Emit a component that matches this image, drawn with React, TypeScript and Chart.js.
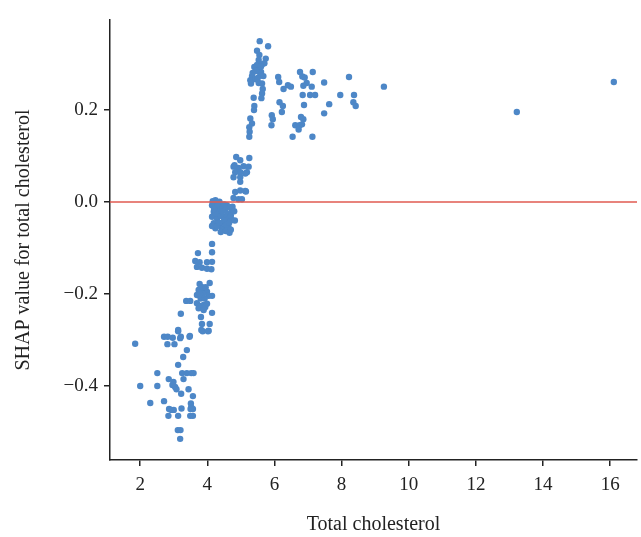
import React, { useEffect, useRef } from "react";
import { Chart, registerables } from "chart.js";

Chart.register(...registerables);

// Total cholesterol (x) and SHAP value (y)
const lowX = [1.85, 2.0, 2.3, 2.51, 2.51, 2.71, 2.71, 2.81, 2.82, 2.85, 2.86, 2.84, 2.93, 2.97, 3.02, 3.0, 2.99, 2.96, 3.04, 3.08, 3.13, 3.13, 3.13, 3.12, 3.2, 3.19, 3.21, 3.22, 3.23, 3.28, 3.25, 3.29, 3.39, 3.39, 3.44, 3.48, 3.52, 3.59, 3.51, 3.52, 3.5, 3.57, 3.49, 3.57, 3.57, 3.47, 3.19, 3.13, 3.86, 4.02];
const lowY = [-0.308, -0.4, -0.437, -0.372, -0.4, -0.293, -0.433, -0.309, -0.293, -0.385, -0.45, -0.465, -0.452, -0.295, -0.309, -0.452, -0.391, -0.398, -0.402, -0.407, -0.281, -0.354, -0.465, -0.496, -0.496, -0.515, -0.293, -0.417, -0.449, -0.337, -0.372, -0.385, -0.322, -0.372, -0.407, -0.291, -0.372, -0.372, -0.438, -0.446, -0.45, -0.45, -0.465, -0.465, -0.422, -0.293, -0.296, -0.278, -0.281, -0.281];

const midX = [3.21, 3.37, 3.49, 3.69, 3.79, 3.89, 3.99, 3.74, 3.89, 3.94, 3.77, 4.07, 3.74, 3.89, 3.99, 3.84, 4.04, 4.14, 3.69, 3.89, 4.14, 3.81, 3.84, 4.07, 3.82, 4.04, 3.8, 3.92, 3.85, 3.95, 3.87, 3.78, 4.14, 3.72, 4.14, 3.64, 3.77, 3.99, 4.14, 3.69, 3.84, 3.99, 4.12];
const midY = [-0.243, -0.215, -0.215, -0.22, -0.226, -0.224, -0.221, -0.231, -0.231, -0.228, -0.178, -0.176, -0.191, -0.191, -0.195, -0.202, -0.204, -0.204, -0.202, -0.235, -0.241, -0.25, -0.265, -0.265, -0.278, -0.28, -0.21, -0.21, -0.185, -0.185, -0.2, -0.2, -0.091, -0.111, -0.109, -0.128, -0.131, -0.131, -0.13, -0.141, -0.143, -0.145, -0.146];

const zeroX = [4.24, 4.36, 4.14, 4.29, 4.44, 4.58, 4.68, 4.19, 4.34, 4.53, 4.73, 4.14, 4.29, 4.48, 4.63, 4.19, 4.38, 4.58, 4.73, 4.24, 4.44, 4.63, 4.14, 4.29, 4.66, 4.25, 4.4, 4.5, 4.6, 4.35, 4.55, 4.7, 4.2, 4.45, 4.65, 4.3, 4.5, 4.75, 4.4, 4.55, 4.7, 4.16, 4.8, 4.82];
const zeroY = [0.004, 0.001, -0.007, -0.011, -0.009, -0.007, -0.011, -0.021, -0.021, -0.017, -0.021, -0.032, -0.036, -0.032, -0.032, -0.046, -0.046, -0.043, -0.039, -0.057, -0.057, -0.054, -0.052, -0.052, -0.067, -0.025, -0.03, -0.04, -0.025, -0.045, -0.05, -0.03, -0.015, -0.02, -0.045, -0.005, -0.005, -0.01, -0.065, -0.063, -0.06, 0.002, -0.02, -0.04];

const riseX = [4.86, 5.25, 4.98, 4.78, 4.93, 5.08, 5.23, 4.83, 4.98, 5.18, 4.78, 4.98, 4.98, 4.83, 5.13, 4.78, 4.93, 5.03, 5.13, 4.81, 5.15, 4.98];
const riseY = [0.098, 0.096, 0.091, 0.077, 0.074, 0.078, 0.077, 0.065, 0.065, 0.065, 0.054, 0.054, 0.044, 0.022, 0.024, 0.009, 0.006, 0.006, 0.062, 0.08, 0.023, 0.025];

const highX = [5.56, 5.81, 5.48, 5.55, 5.74, 5.53, 5.48, 5.63, 5.7, 5.4, 5.53, 5.6, 5.67, 5.33, 5.28, 5.43, 5.53, 5.63, 5.65, 5.63, 5.61, 5.38, 5.4, 5.39, 5.28, 5.33, 5.25, 5.26, 5.25, 5.35, 5.58, 5.45, 5.58, 5.5, 5.6, 5.3];
const highY = [0.35, 0.339, 0.329, 0.32, 0.312, 0.309, 0.298, 0.3, 0.302, 0.294, 0.287, 0.283, 0.274, 0.274, 0.265, 0.267, 0.259, 0.258, 0.246, 0.236, 0.226, 0.227, 0.209, 0.2, 0.182, 0.171, 0.163, 0.153, 0.142, 0.281, 0.28, 0.285, 0.275, 0.27, 0.295, 0.258];

const spreadX = [6.11, 6.14, 6.76, 6.83, 6.9, 7.14, 6.27, 6.4, 6.49, 6.96, 6.86, 7.11, 7.48, 8.22, 9.26, 6.84, 7.06, 7.21, 7.96, 8.37, 6.15, 6.25, 6.88, 7.63, 8.35, 8.42, 6.22, 7.48, 5.92, 5.95, 6.79, 6.86, 5.91, 6.62, 6.75, 6.82, 6.72, 6.54, 7.13, 13.22, 16.11];
const spreadY = [0.272, 0.261, 0.283, 0.273, 0.271, 0.283, 0.246, 0.254, 0.251, 0.259, 0.253, 0.251, 0.26, 0.272, 0.251, 0.233, 0.233, 0.233, 0.233, 0.233, 0.217, 0.209, 0.211, 0.213, 0.217, 0.209, 0.196, 0.193, 0.189, 0.18, 0.185, 0.18, 0.167, 0.167, 0.167, 0.169, 0.158, 0.142, 0.142, 0.196, 0.261];

const xTicks = [2, 4, 6, 8, 10, 12, 14, 16];
const yTicks = [-0.4, -0.2, 0.0, 0.2];

const allX = [...lowX, ...midX, ...zeroX, ...riseX, ...highX, ...spreadX];
const allY = [...lowY, ...midY, ...zeroY, ...riseY, ...highY, ...spreadY];

const FONT = "'Liberation Serif', 'DejaVu Serif', serif";

const zeroLine = {
  id: "zeroLine",
  afterDatasetsDraw(chart: any) {
    const { ctx, chartArea, scales } = chart;
    const y = scales.y.getPixelForValue(0);
    ctx.save();
    ctx.strokeStyle = "#e05a50";
    ctx.lineWidth = 1.5;
    ctx.beginPath();
    ctx.moveTo(chartArea.left, y);
    ctx.lineTo(chartArea.right, y);
    ctx.stroke();
    ctx.restore();
  },
};

export default function App() {
  const ref = useRef<HTMLCanvasElement>(null);
  useEffect(() => {
    document.body.style.margin = "0";
    const data = allX.map((x, i) => ({ x, y: allY[i] }));
    const chart = new Chart(ref.current!, {
      type: "scatter",
      data: {
        datasets: [
          {
            data,
            backgroundColor: "#4d87c7",
            borderWidth: 0,
            pointRadius: 3.2,
          },
        ],
      },
      options: {
        responsive: false,
        animation: false,
        layout: { padding: { top: 20, right: 4, left: 0, bottom: 0 } },
        plugins: { legend: { display: false }, tooltip: { enabled: false } },
        scales: {
          x: {
            type: "linear",
            min: 1.1,
            max: 16.8,
            afterFit: (s: any) => { s.height = 77; },
            afterBuildTicks: (s: any) => { s.ticks = xTicks.map((v) => ({ value: v })); },
            border: { display: true, color: "#222", width: 1.5 },
            grid: { drawOnChartArea: false, drawTicks: true, tickLength: 6, color: "#222", lineWidth: 1.5 },
            ticks: { color: "#222", font: { family: FONT, size: 19 }, padding: 8, callback: (v: any) => String(v) },
            title: { display: true, text: "Total cholesterol", color: "#222", font: { family: FONT, size: 20 }, padding: { top: 0, bottom: 0 } },
          },
          y: {
            type: "linear",
            min: -0.561,
            max: 0.396,
            afterFit: (s: any) => { s.width = 110; },
            afterBuildTicks: (s: any) => { s.ticks = yTicks.map((v) => ({ value: v })); },
            border: { display: true, color: "#222", width: 1.5 },
            grid: { drawOnChartArea: false, drawTicks: true, tickLength: 6, color: "#222", lineWidth: 1.5 },
            ticks: {
              color: "#222",
              font: { family: FONT, size: 19 },
              padding: 6,
              callback: (v: any) => (v < 0 ? "\u2212" + Math.abs(v).toFixed(1) : Number(v).toFixed(1)),
            },
            title: { display: true, text: "SHAP value for total cholesterol", color: "#222", font: { family: FONT, size: 20 }, padding: { top: 12, bottom: 0 } },
          },
        },
      },
      plugins: [zeroLine],
    });
    return () => chart.destroy();
  }, []);
  return (
    <div style={{ width: 641, height: 537, background: "#fff" }}>
      <canvas ref={ref} width={641} height={537} />
    </div>
  );
}
